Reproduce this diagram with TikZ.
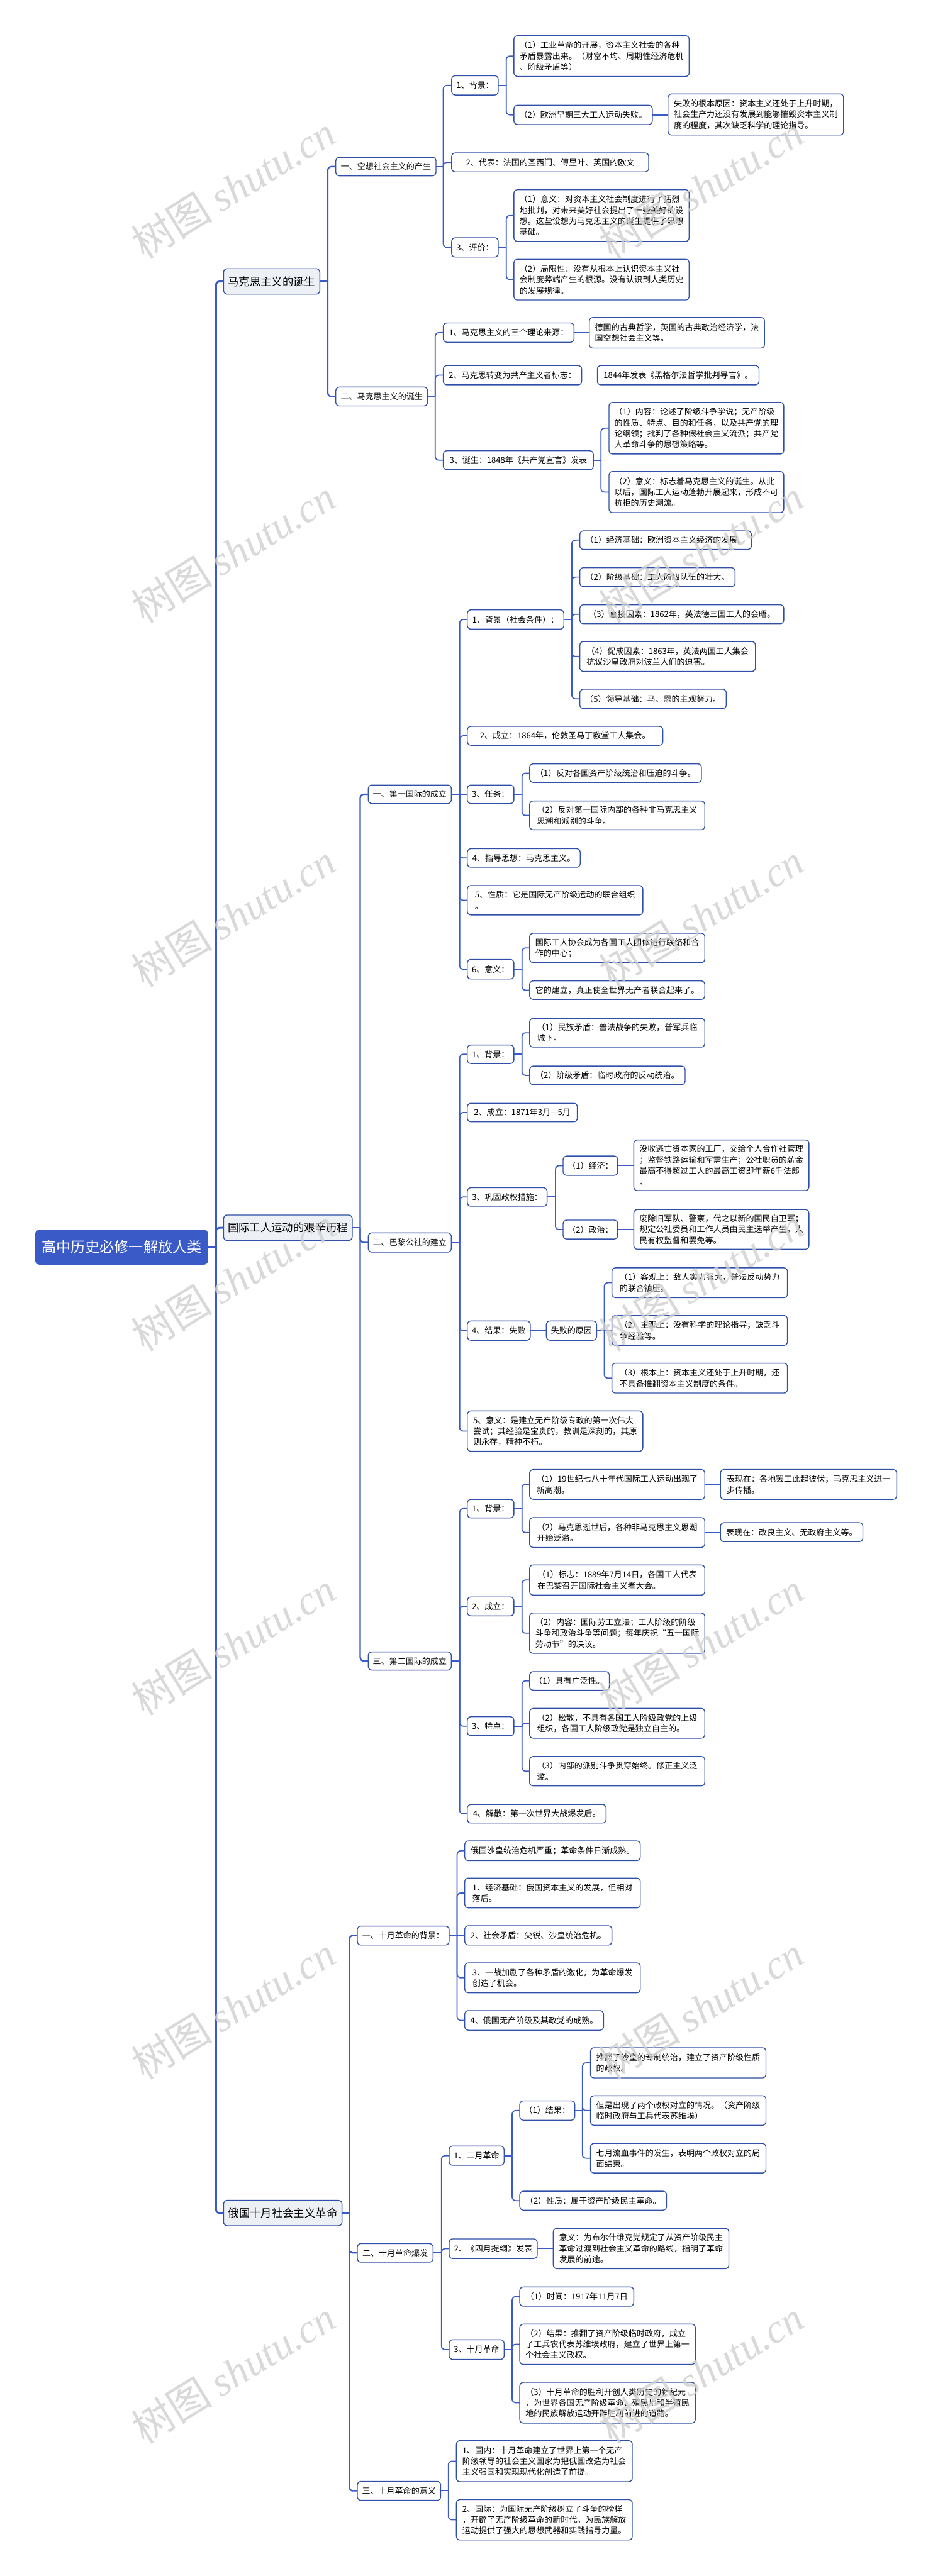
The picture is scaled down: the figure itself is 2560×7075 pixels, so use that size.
\documentclass[tikz,border=0pt]{standalone}
\usepackage{fontspec}
\setmainfont{Noto Sans CJK SC}
\newfontfamily\wmlatin{Liberation Serif}
\usetikzlibrary{calc}
\definecolor{lineblue}{HTML}{3A5BC7}
\definecolor{bordblue}{HTML}{2F4FA8}
\definecolor{lvfill}{HTML}{EDF1F5}
\definecolor{wmgray}{HTML}{D0D0D0}
\tikzset{
 box/.style={draw=bordblue, line width=1.2pt, rounded corners=5pt, fill=white, align=left,
   inner xsep=5.5pt, inner ysep=2pt, outer sep=0pt, font=\fontsize{11.25}{15}\selectfont, text=black},
 lone/.style={fill=lvfill, font=\fontsize{15}{18}\selectfont},
 rootbox/.style={fill=lineblue, draw=lineblue, text=white, font=\fontsize{20}{24}\selectfont},
 conn/.style={draw=lineblue, line width=1.5pt},
 connb/.style={draw=lineblue, line width=2pt},
 conna/.style={draw=lineblue, line width=2.6pt},
 wm/.style={text=wmgray, opacity=0.8, rotate=31.5, font=\fontsize{56}{60}\selectfont},
}
% \nd[style]{x1}{y1}{x2}{y2}{name}{text}
\newcommand\nd[7][]{\node[box,#1,minimum width={(#4-#2)*0.5pt},minimum height={(#5-#3)*0.5pt},anchor=west] (#6) at (#2,{(#3+#5)/2}) {#7};}
\newcommand\stub[3][conn]{\draw[#1] (#2.east) -- ++(#3,0) coordinate (#2-b);}
\newcommand\cn[3][conn]{\draw[#1,rounded corners=5pt] (#2-b) |- (#3.west);}
\newcommand\st[3][conn]{\draw[#1] (#2.east) -- (#2.east -| #3.west);}
\begin{document}
\begin{tikzpicture}[x=0.5pt,y=-0.5pt]
\fill[white] (0,0) rectangle (2560,7075);
\useasboundingbox (0,0) rectangle (2560,7075);

% root and level 1
\nd[rootbox]{98}{3379}{570}{3472}{root}{高中历史必修一解放人类}
\nd[lone]{614}{738}{878}{808}{m1}{马克思主义的诞生}
\nd[lone]{614}{3337}{967}{3407}{m2}{国际工人运动的艰辛历程}
\nd[lone]{614}{6043}{939}{6113}{m3}{俄国十月社会主义革命}

% Marx branch
\nd{922}{432}{1197}{483}{a1}{一、空想社会主义的产生}
\nd{922}{1063}{1174}{1115}{a2}{二、马克思主义的诞生}
\nd{1240}{208}{1368}{261}{a11}{1、背景：}
\nd{1411}{98}{1892}{210}{a111}{（1）工业革命的开展，资本主义社会的各种\\矛盾暴露出来。（财富不均、周期性经济危机\\、阶级矛盾等）}
\nd{1411}{289}{1791}{342}{a112}{（2）欧洲早期三大工人运动失败。}
\nd{1834}{258}{2316}{371}{a1121}{失败的根本原因：资本主义还处于上升时期，\\社会生产力还没有发展到能够摧毁资本主义制\\度的程度，其次缺乏科学的理论指导。}
\nd{1240}{420}{1781}{472}{a12}{2、代表：法国的圣西门、傅里叶、英国的欧文}
\nd{1240}{653}{1368}{706}{a13}{3、评价：}
\nd{1411}{521}{1892}{663}{a131}{（1）意义：对资本主义社会制度进行了猛烈\\地批判，对未来美好社会提出了一些美好的设\\想。这些设想为马克思主义的诞生提供了思想\\基础。}
\nd{1411}{712}{1892}{824}{a132}{（2）局限性：没有从根本上认识资本主义社\\会制度弊端产生的根源。没有认识到人类历史\\的发展规律。}
\nd{1217}{887}{1576}{940}{a21}{1、马克思主义的三个理论来源：}
\nd{1618}{872}{2099}{956}{a211}{德国的古典哲学，英国的古典政治经济学，法\\国空想社会主义等。}
\nd{1217}{1004}{1597}{1057}{a22}{2、马克思转变为共产主义者标志：}
\nd{1640}{1004}{2084}{1057}{a221}{1844年发表《黑格尔法哲学批判导言》。}
\nd{1217}{1238}{1629}{1290}{a23}{3、诞生：1848年《共产党宣言》发表}
\nd{1672}{1105}{2152}{1247}{a231}{（1）内容：论述了阶级斗争学说；无产阶级\\的性质、特点、目的和任务，以及共产党的理\\论纲领；批判了各种假社会主义流派；共产党\\人革命斗争的思想策略等。}
\nd{1672}{1295}{2152}{1408}{a232}{（2）意义：标志着马克思主义的诞生。从此\\以后，国际工人运动蓬勃开展起来，形成不可\\抗拒的历史潮流。}

% International branch
\nd{1011}{2156}{1239}{2207}{b1}{一、第一国际的成立}
\nd{1011}{3386}{1239}{3439}{b2}{二、巴黎公社的建立}
\nd{1011}{4537}{1239}{4587}{b3}{三、第二国际的成立}
\nd{1283}{1675}{1548}{1728}{b11}{1、背景（社会条件）：}
\nd{1592}{1458}{2063}{1509}{b111}{（1）经济基础：欧洲资本主义经济的发展。}
\nd{1592}{1559}{2018}{1611}{b112}{（2）阶级基础：工人阶级队伍的壮大。}
\nd{1592}{1661}{2152}{1713}{b113}{（3）直接因素：1862年，英法德三国工人的会晤。}
\nd{1592}{1762}{2074}{1844}{b114}{（4）促成因素：1863年，英法两国工人集会\\抗议沙皇政府对波兰人们的迫害。}
\nd{1592}{1893}{1994}{1946}{b115}{（5）领导基础：马、恩的主观努力。}
\nd{1283}{1995}{1820}{2047}{b12}{2、成立：1864年，伦敦圣马丁教堂工人集会。}
\nd{1283}{2156}{1411}{2207}{b13}{3、任务：}
\nd{1454}{2098}{1926}{2149}{b131}{（1）反对各国资产阶级统治和压迫的斗争。}
\nd{1454}{2200}{1935}{2279}{b132}{（2）反对第一国际内部的各种非马克思主义\\思潮和派别的斗争。}
\nd{1283}{2331}{1593}{2382}{b14}{4、指导思想：马克思主义。}
\nd{1283}{2432}{1765}{2513}{b15}{5、性质：它是国际无产阶级运动的联合组织\\。}
\nd{1283}{2635}{1411}{2689}{b16}{6、意义：}
\nd{1454}{2563}{1935}{2644}{b161}{国际工人协会成为各国工人团体进行联络和合\\作的中心；}
\nd{1454}{2694}{1935}{2745}{b162}{它的建立，真正使全世界无产者联合起来了。}

\nd{1283}{2870}{1411}{2921}{b21}{1、背景：}
\nd{1454}{2797}{1935}{2876}{b211}{（1）民族矛盾：普法战争的失败，普军兵临\\城下。}
\nd{1454}{2928}{1881}{2979}{b212}{（2）阶级矛盾：临时政府的反动统治。}
\nd{1283}{3030}{1585}{3081}{b22}{2、成立：1871年3月—5月}
\nd{1283}{3262}{1502}{3313}{b23}{3、巩固政权措施：}
\nd{1546}{3175}{1696}{3228}{b231}{（1）经济：}
\nd{1740}{3131}{2221}{3270}{b2311}{没收逃亡资本家的工厂，交给个人合作社管理\\；监督铁路运输和军需生产；公社职员的薪金\\最高不得超过工人的最高工资即年薪6千法郎\\。}
\nd{1546}{3351}{1696}{3403}{b232}{（2）政治：}
\nd{1740}{3322}{2221}{3431}{b2321}{废除旧军队、警察，代之以新的国民自卫军；\\规定公社委员和工作人员由民主选举产生，人\\民有权监督和罢免等。}
\nd{1283}{3628}{1456}{3681}{b24}{4、结果：失败}
\nd{1500}{3628}{1638}{3681}{b241}{失败的原因}
\nd{1680}{3482}{2162}{3564}{b2411}{（1）客观上：敌人实力强大，普法反动势力\\的联合镇压。}
\nd{1680}{3613}{2162}{3695}{b2412}{（2）主观上：没有科学的理论指导；缺乏斗\\争经验等。}
\nd{1680}{3744}{2162}{3826}{b2413}{（3）根本上：资本主义还处于上升时期，还\\不具备推翻资本主义制度的条件。}
\nd{1283}{3875}{1765}{3986}{b25}{5、意义：是建立无产阶级专政的第一次伟大\\尝试；其经验是宝贵的，教训是深刻的，其原\\则永存，精神不朽。}

\nd{1283}{4118}{1411}{4169}{b31}{1、背景：}
\nd{1454}{4036}{1935}{4118}{b311}{（1）19世纪七八十年代国际工人运动出现了\\新高潮。}
\nd{1978}{4036}{2462}{4118}{b3111}{表现在：各地罢工此起彼伏；马克思主义进一\\步传播。}
\nd{1454}{4168}{1935}{4250}{b312}{（2）马克思逝世后，各种非马克思主义思潮\\开始泛滥。}
\nd{1978}{4182}{2369}{4234}{b3121}{表现在：改良主义、无政府主义等。}
\nd{1283}{4386}{1411}{4438}{b32}{2、成立：}
\nd{1454}{4298}{1935}{4381}{b321}{（1）标志：1889年7月14日，各国工人代表\\在巴黎召开国际社会主义者大会。}
\nd{1454}{4430}{1935}{4541}{b322}{（2）内容：国际劳工立法；工人阶级的阶级\\斗争和政治斗争等问题；每年庆祝“五一国际\\劳动节”的决议。}
\nd{1283}{4715}{1411}{4767}{b33}{3、特点：}
\nd{1454}{4591}{1673}{4642}{b331}{（1）具有广泛性。}
\nd{1454}{4692}{1935}{4774}{b332}{（2）松散，不具有各国工人阶级政党的上级\\组织，各国工人阶级政党是独立自主的。}
\nd{1454}{4824}{1935}{4905}{b333}{（3）内部的派别斗争贯穿始终。修正主义泛\\滥。}
\nd{1283}{4956}{1664}{5007}{b34}{4、解散：第一次世界大战爆发后。}

% October branch
\nd{981}{5290}{1233}{5342}{c1}{一、十月革命的背景：}
\nd{981}{6162}{1189}{6213}{c2}{二、十月革命爆发}
\nd{981}{6815}{1210}{6867}{c3}{三、十月革命的意义}
\nd{1276}{5056}{1758}{5110}{c11}{俄国沙皇统治危机严重；革命条件日渐成熟。}
\nd{1276}{5158}{1758}{5240}{c12}{1、经济基础：俄国资本主义的发展，但相对\\落后。}
\nd{1276}{5289}{1680}{5342}{c13}{2、社会矛盾：尖锐、沙皇统治危机。}
\nd{1276}{5391}{1758}{5473}{c14}{3、一战加剧了各种矛盾的激化，为革命爆发\\创造了机会。}
\nd{1276}{5522}{1657}{5576}{c15}{4、俄国无产阶级及其政党的成熟。}
\nd{1233}{5894}{1384}{5947}{c21}{1、二月革命}
\nd{1427}{5770}{1578}{5823}{c211}{（1）结果：}
\nd{1621}{5624}{2103}{5707}{c2111}{推翻了沙皇的专制统治，建立了资产阶级性质\\的政权。}
\nd{1621}{5756}{2103}{5837}{c2112}{但是出现了两个政权对立的情况。（资产阶级\\临时政府与工兵代表苏维埃）}
\nd{1621}{5887}{2103}{5968}{c2113}{七月流血事件的发生，表明两个政权对立的局\\面结束。}
\nd{1427}{6018}{1830}{6070}{c212}{（2）性质：属于资产阶级民主革命。}
\nd{1233}{6149}{1475}{6203}{c22}{2、《四月提纲》发表}
\nd{1519}{6120}{2001}{6231}{c221}{意义：为布尔什维克党规定了从资产阶级民主\\革命过渡到社会主义革命的路线，指明了革命\\发展的前途。}
\nd{1233}{6426}{1384}{6480}{c23}{3、十月革命}
\nd{1427}{6281}{1740}{6334}{c231}{（1）时间：1917年11月7日}
\nd{1427}{6383}{1909}{6494}{c232}{（2）结果：推翻了资产阶级临时政府，成立\\了工兵农代表苏维埃政府，建立了世界上第一\\个社会主义政权。}
\nd{1427}{6543}{1909}{6655}{c233}{（3）十月革命的胜利开创人类历史的新纪元\\，为世界各国无产阶级革命、殖民地和半殖民\\地的民族解放运动开辟胜利前进的道路。}
\nd{1253}{6703}{1736}{6816}{c31}{1、国内：十月革命建立了世界上第一个无产\\阶级领导的社会主义国家为把俄国改造为社会\\主义强国和实现现代化创造了前提。}
\nd{1253}{6865}{1736}{6976}{c32}{2、国际：为国际无产阶级树立了斗争的榜样\\，开辟了无产阶级革命的新时代。为民族解放\\运动提供了强大的思想武器和实践指导力量。}

% connectors
\stub[conna]{root}{23}
\cn[conna]{root}{m1}\cn[conna]{root}{m2}\cn[conna]{root}{m3}
\stub[connb]{m1}{22}
\cn[connb]{m1}{a1}\cn[connb]{m1}{a2}
\stub[connb]{m2}{22}
\cn[connb]{m2}{b1}\cn[connb]{m2}{b2}\cn[connb]{m2}{b3}
\stub[connb]{m3}{20}
\cn[connb]{m3}{c1}\cn[connb]{m3}{c2}\cn[connb]{m3}{c3}

\stub{a1}{20}
\cn{a1}{a11}\cn{a1}{a12}\cn{a1}{a13}
\stub{a11}{22}
\cn{a11}{a111}\cn{a11}{a112}
\st{a112}{a1121}
\stub{a13}{22}
\cn{a13}{a131}\cn{a13}{a132}
\stub{a2}{21}
\cn{a2}{a21}\cn{a2}{a22}\cn{a2}{a23}
\st{a21}{a211}
\st{a22}{a221}
\stub{a23}{21}
\cn{a23}{a231}\cn{a23}{a232}

\stub{b1}{23}
\cn{b1}{b11}\cn{b1}{b12}\st{b1}{b13}\cn{b1}{b14}\cn{b1}{b15}\cn{b1}{b16}
\stub{b11}{22}
\cn{b11}{b111}\cn{b11}{b112}\cn{b11}{b113}\cn{b11}{b114}\cn{b11}{b115}
\stub{b13}{22}
\cn{b13}{b131}\cn{b13}{b132}
\stub{b16}{22}
\cn{b16}{b161}\cn{b16}{b162}

\stub{b2}{23}
\cn{b2}{b21}\cn{b2}{b22}\cn{b2}{b23}\cn{b2}{b24}\cn{b2}{b25}
\stub{b21}{22}
\cn{b21}{b211}\cn{b21}{b212}
\stub{b23}{23}
\cn{b23}{b231}\cn{b23}{b232}
\st{b231}{b2311}
\st{b232}{b2321}
\st{b24}{b241}
\stub{b241}{21}
\cn{b241}{b2411}\st{b241}{b2412}\cn{b241}{b2413}

\stub{b3}{23}
\cn{b3}{b31}\cn{b3}{b32}\cn{b3}{b33}\cn{b3}{b34}
\stub{b31}{22}
\cn{b31}{b311}\cn{b31}{b312}
\st{b311}{b3111}
\st{b312}{b3121}
\stub{b32}{22}
\cn{b32}{b321}\cn{b32}{b322}
\stub{b33}{22}
\cn{b33}{b331}\cn{b33}{b332}\cn{b33}{b333}

\stub{c1}{22}
\cn{c1}{c11}\cn{c1}{c12}\st{c1}{c13}\cn{c1}{c14}\cn{c1}{c15}
\stub{c2}{23}
\cn{c2}{c21}\cn{c2}{c22}\cn{c2}{c23}
\stub{c21}{22}
\cn{c21}{c211}\cn{c21}{c212}
\stub{c211}{21}
\cn{c211}{c2111}\cn{c211}{c2112}\cn{c211}{c2113}
\st{c22}{c221}
\stub{c23}{22}
\cn{c23}{c231}\cn{c23}{c232}\cn{c23}{c233}
\stub{c3}{21}
\cn{c3}{c31}\cn{c3}{c32}

% watermarks
\foreach \k in {0,...,6}{
  \node[wm] (wl\k) at (640,{515+1000*\k}) {树图 {\wmlatin\itshape shutu.cn}};
  \node[wm] (wr\k) at (1925,{515+1000*\k}) {树图 {\wmlatin\itshape shutu.cn}};
}
\end{tikzpicture}
\end{document}
